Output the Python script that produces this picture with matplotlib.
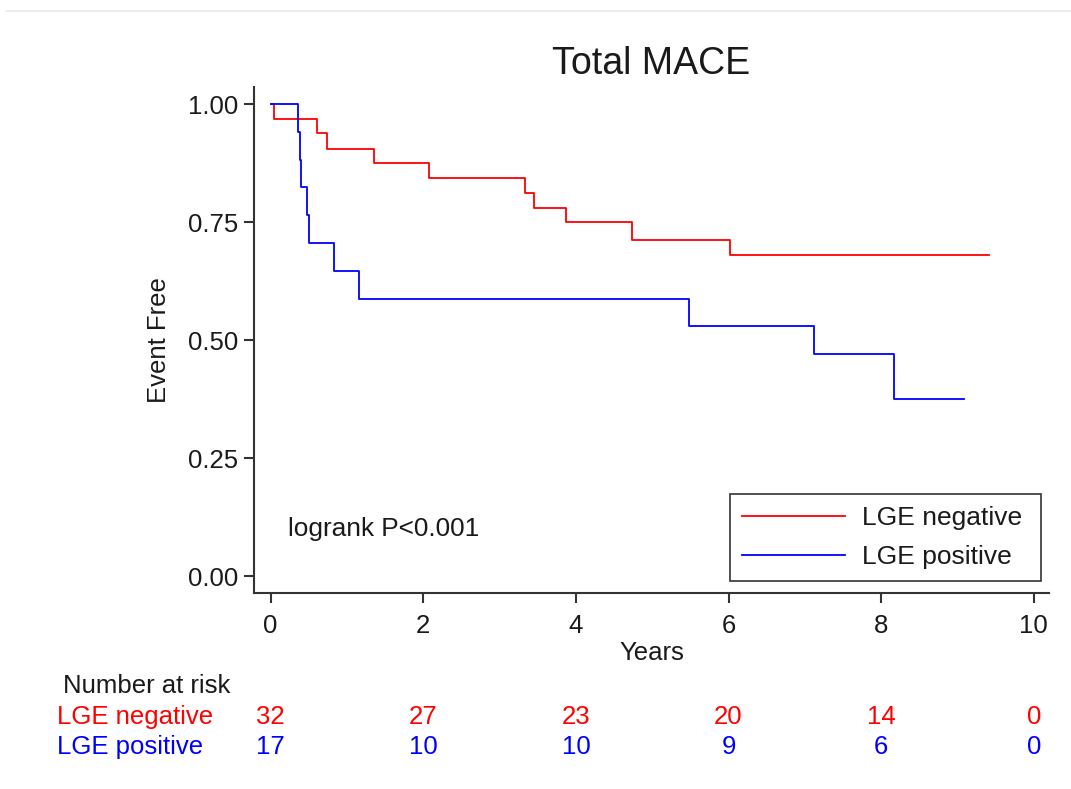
import matplotlib
matplotlib.use("Agg")
import matplotlib.pyplot as plt
from matplotlib.lines import Line2D
import matplotlib.transforms as mtransforms

plt.rcParams['font.family'] = ['Liberation Sans', 'DejaVu Sans']

# Kaplan-Meier step data (time in years, event-free proportion)
neg_times = [0, 0.05, 0.61, 0.74, 1.36, 2.07, 3.33, 3.45, 3.87, 4.73, 6.02, 9.41]
neg_surv = [1.0, 0.969, 0.938, 0.906, 0.875, 0.844, 0.812, 0.781, 0.750, 0.713, 0.681, 0.681]
pos_times = [0, 0.36, 0.39, 0.40, 0.48, 0.50, 0.83, 1.16, 5.48, 7.12, 8.17, 9.08]
pos_surv = [1.0, 0.941, 0.882, 0.824, 0.765, 0.706, 0.647, 0.588, 0.530, 0.471, 0.376, 0.376]

risk_times = [0, 2, 4, 6, 8, 10]
risk_neg = [32, 27, 23, 20, 14, 0]
risk_pos = [17, 10, 10, 9, 6, 0]

x_ticks = [0, 2, 4, 6, 8, 10]
y_ticks = [0.0, 0.25, 0.5, 0.75, 1.0]
y_ticklabels = ["0.00", "0.25", "0.50", "0.75", "1.00"]

RED = "#ff0000"
BLUE = "#0000ff"
TXT = "#1a1a1a"
FS = 18.5

fig = plt.figure(figsize=(10.71, 7.89), dpi=100)
ax = fig.add_axes([0.237, 0.2484, 0.9795 - 0.237, 0.890 - 0.2484])

ax.step(neg_times, neg_surv, where='post', color=RED, lw=1.3, label='LGE negative ')
ax.step(pos_times, pos_surv, where='post', color=BLUE, lw=1.3, label='LGE positive ')

ax.set_xlim(-0.22, 10.2)
ax.set_ylim(-0.036, 1.037)
ax.set_xticks(x_ticks)
ax.set_xticklabels([str(t) for t in x_ticks])
ax.set_yticks(y_ticks)
ax.set_yticklabels(y_ticklabels)
for s in ['top', 'right']:
    ax.spines[s].set_visible(False)
for s in ['left', 'bottom']:
    ax.spines[s].set_linewidth(1.5)
    ax.spines[s].set_color('#333333')
ax.tick_params(axis='both', direction='out', length=7.5, width=1.5, color='#333333',
               labelsize=FS, labelcolor=TXT)
ax.tick_params(axis='y', pad=4)
ax.tick_params(axis='x', pad=7.6)

ax.set_title("Total MACE", fontsize=27, color=TXT, pad=9)
ax.set_xlabel("Years", fontsize=FS, color=TXT, labelpad=2)
ax.set_ylabel("Event Free", fontsize=FS, color=TXT, labelpad=12)

ax.text(0.23, 0.10, "logrank P<0.001", fontsize=18.9, color=TXT, va='center', ha='left')

leg = ax.legend(loc='lower right', bbox_to_anchor=(0.990, 0.0237), fontsize=19,
                frameon=True, fancybox=False, edgecolor='black', handlelength=3.9,
                handletextpad=0.65, labelspacing=0.56, borderpad=0.45, borderaxespad=0)
leg.get_frame().set_linewidth(1.2)
for t in leg.get_texts():
    t.set_color(TXT)

# Number at risk table
H = 789.0
def fy(py):
    return 1 - py / H

fig.text(63 / 1071, fy(686), "Number at risk", fontsize=FS, color=TXT, ha='left', va='center')
fig.text(57 / 1071, fy(717), "LGE negative", fontsize=FS, color=RED, ha='left', va='center')
fig.text(57 / 1071, fy(747), "LGE positive", fontsize=FS, color=BLUE, ha='left', va='center')
trans = mtransforms.blended_transform_factory(ax.transData, fig.transFigure)
for t, n in zip(risk_times, risk_neg):
    ax.text(t, fy(717), str(n), transform=trans, fontsize=FS, color=RED,
            ha='center', va='center', clip_on=False)
for t, n in zip(risk_times, risk_pos):
    ax.text(t, fy(747), str(n), transform=trans, fontsize=FS, color=BLUE,
            ha='center', va='center', clip_on=False)

# faint top border line
fig.add_artist(Line2D([6 / 1071, 1.0], [fy(11), fy(11)], color='#e6ebeb', lw=1.2,
                      transform=fig.transFigure))

fig.savefig("out.png", dpi=100)
